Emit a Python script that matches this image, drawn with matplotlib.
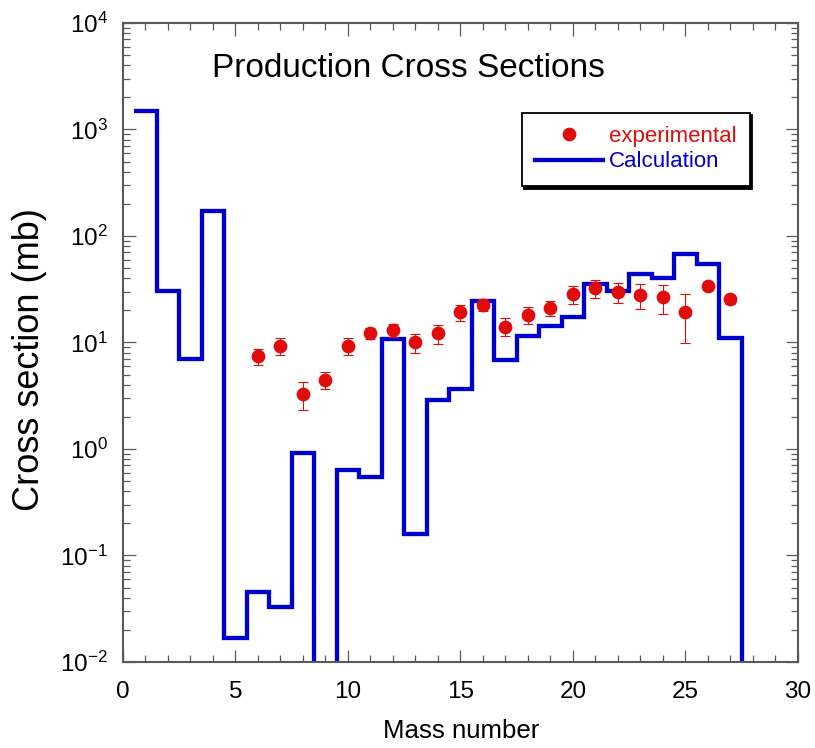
'''Production cross sections: measured points vs calculated histogram'''

import numpy as np
import matplotlib
matplotlib.use("Agg")
import matplotlib.pyplot as plt
from matplotlib.ticker import LogLocator, MultipleLocator, NullFormatter

plt.rcParams['font.family'] = ['Liberation Sans', 'DejaVu Sans']
plt.rcParams['axes.unicode_minus'] = False

#Measured cross sections (mb)
mass_exp = [6, 7, 8, 9, 10, 11, 12, 13, 14, 15, 16, 17, 18, 19, 20, 21, 22, 23, 24, 25, 26, 27]
sigma_exp = [7.4, 9.3, 3.3, 4.45, 9.3, 12.2, 13.0, 10.0, 12.2, 19.2, 22.7, 14.1,
             18.1, 21.2, 28.4, 32.7, 30.0, 27.9, 26.7, 19.2, 34.1, 25.6]
sigma_err = [1.2, 1.7, 1.0, 0.8, 1.7, 1.5, 1.8, 2.0, 2.5, 3.4, 3.0, 2.7,
             3.2, 3.4, 5.3, 6.3, 6.4, 7.3, 8.0, 9.3, 3.0, 2.5]

#Calculated cross sections per mass bin, A = 1..28 (1e-4 = below plot range)
mass_calc = list(range(1, 29))
sigma_calc = [1500, 30.5, 7.0, 172, 0.0167, 0.0454, 0.0327, 0.91, 1e-4, 0.635,
              0.54, 10.7, 0.158, 2.88, 3.63, 24.5, 6.86, 11.5, 14.3, 17.3,
              35.2, 30.5, 43.7, 40.0, 67.3, 55.0, 11.0, 1e-4]

RED = '#e00c0c'
BLUE = '#0000cc'
GREY = '#5a5a5a'

fig = plt.figure(figsize=(8.15, 7.48), dpi=100)
ax = fig.add_axes([0.1509, 0.115, 0.8282, 0.8543])

#Calculation as a step histogram, bin edges at half-integers
edges = np.append(np.array(mass_calc) - 0.5, mass_calc[-1] + 0.5)
calc = ax.stairs(sigma_calc, edges, baseline=None, color=BLUE, linewidth=3.1,
                 joinstyle='miter', zorder=2)

#Experimental points with error bars
exp = ax.errorbar(mass_exp, sigma_exp, yerr=sigma_err, fmt='o', color=RED,
                  markersize=8.9, elinewidth=0.8, capsize=3.5, capthick=0.8,
                  zorder=3)

ax.set_yscale('log')
ax.set_xlim(0, 30)
ax.set_ylim(1e-2, 1e4)

ax.xaxis.set_major_locator(MultipleLocator(5))
ax.xaxis.set_minor_locator(MultipleLocator(1))
ax.yaxis.set_major_locator(LogLocator(base=10, numticks=10))
ax.yaxis.set_minor_locator(LogLocator(base=10, subs=np.arange(2, 10), numticks=20))
ax.yaxis.set_minor_formatter(NullFormatter())

for side in ax.spines.values():
    side.set_color(GREY)
    side.set_linewidth(1.5)
ax.tick_params(which='both', direction='in', top=True, right=True, color=GREY, width=0.9)
ax.tick_params(which='major', length=9, labelsize=17.5)
ax.tick_params(which='minor', length=5)
ax.tick_params(axis='x', which='major', pad=14)
ax.tick_params(axis='y', which='major', pad=11)

ax.set_xlabel('Mass number', fontsize=18.6)
ax.xaxis.set_label_coords(0.5007, -0.09)
ax.set_ylabel('Cross section (mb)', fontsize=26)
ax.yaxis.set_label_coords(-0.1126, 0.474)

ax.text(0.132, 0.916, 'Production Cross Sections', transform=ax.transAxes,
        fontsize=24, va='baseline', ha='left')

#Legend: plain dot for the data, line for the calculation
leg = ax.legend([exp[0], calc], ['experimental', 'Calculation'],
                loc='upper left', bbox_to_anchor=(0.5907, 0.8596), fontsize=16,
                frameon=True, fancybox=False, shadow={'color': 'black', 'alpha': 1},
                handlelength=3.06, handletextpad=0.25, labelspacing=0.2,
                borderpad=0.6, borderaxespad=0, labelcolor='linecolor')
leg.get_frame().set_edgecolor('black')
leg.get_frame().set_linewidth(1.3)

fig.savefig('out.png', dpi=100)
